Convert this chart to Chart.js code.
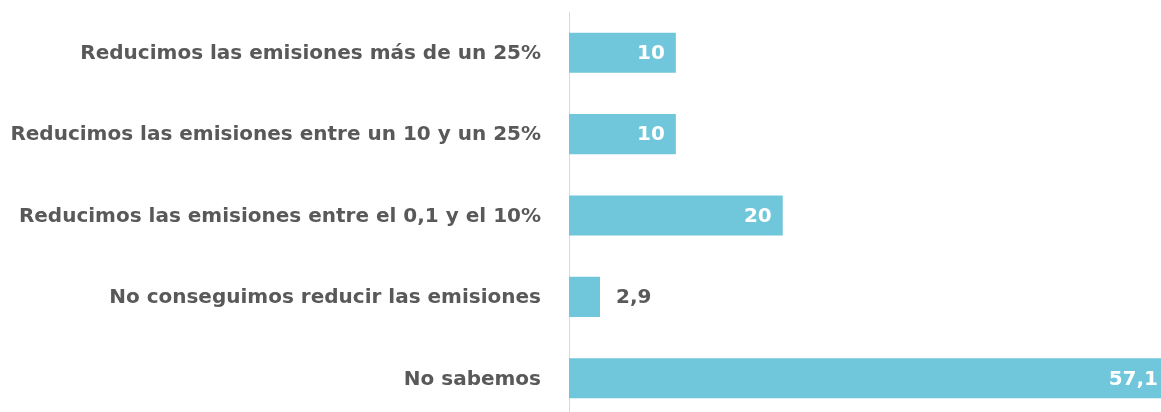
<!DOCTYPE html>
<html>
<head>
<meta charset="utf-8">
<script src="https://cdn.jsdelivr.net/npm/chart.js@4/dist/chart.umd.min.js"></script>
<style>
  html, body { margin:0; padding:0; background:#fff; overflow:hidden; width:1161px; height:412px; }
  #wrap { width:1161px; height:419px; position:relative; }
</style>
</head>
<body>
<div id="wrap"><canvas id="c" width="1161" height="419"></canvas></div>
<script>
const categories = [
  "Reducimos las emisiones más de un 25%",
  "Reducimos las emisiones entre un 10 y un 25%",
  "Reducimos las emisiones entre el 0,1 y el 10%",
  "No conseguimos reducir las emisiones",
  "No sabemos"
];
const values = [10, 10, 20, 2.9, 57.1];

const BAR = "#70C6DA";
const TXT = "#595959";
const FONT = "DejaVu Sans";
const FSIZE = 20;

const fmt = v => String(v).replace('.', ',');

const labelPlugin = {
  id: 'valueLabels',
  afterDatasetsDraw(chart) {
    const ctx = chart.ctx;
    const meta = chart.getDatasetMeta(0);
    const area = chart.chartArea;
    const yScale = chart.scales.y;
    ctx.save();
    ctx.font = "bold " + FSIZE + "px '" + FONT + "'";
    ctx.textBaseline = 'middle';
    categories.forEach((c, i) => {
      ctx.fillStyle = TXT;
      ctx.textAlign = 'right';
      ctx.fillText(c, area.left - 28, yScale.getPixelForValue(i) + 1);
    });
    meta.data.forEach((bar, i) => {
      const v = values[i];
      const txt = fmt(v);
      const w = ctx.measureText(txt).width;
      const barW = bar.x - bar.base;
      if (barW > w + 20) {
        ctx.fillStyle = '#ffffff';
        ctx.textAlign = 'right';
        const xr = Math.min(bar.x - 11, area.right - 3);
        ctx.fillText(txt, xr, bar.y + 1);
      } else {
        ctx.fillStyle = TXT;
        ctx.textAlign = 'left';
        ctx.fillText(txt, bar.x + 16, bar.y + 1);
      }
    });
    ctx.restore();
  }
};

new Chart(document.getElementById('c'), {
  type: 'bar',
  data: {
    labels: categories,
    datasets: [{
      data: values,
      backgroundColor: BAR,
      borderWidth: 0,
      barPercentage: 0.985,
      categoryPercentage: 0.5
    }]
  },
  options: {
    indexAxis: 'y',
    responsive: false,
    animation: false,
    events: [],
    layout: { padding: { top: 12, right: 0, bottom: 0, left: 0 } },
    plugins: { legend: { display: false }, tooltip: { enabled: false } },
    scales: {
      x: {
        display: false,
        min: 0,
        max: 55.4
      },
      y: {
        afterFit(scale) { scale.width = 569; },
        grid: { display: false, drawTicks: false },
        border: { display: true, color: '#d9d9d9', width: 1 },
        ticks: { display: false }
      }
    }
  },
  plugins: [labelPlugin]
});
</script>
</body>
</html>
